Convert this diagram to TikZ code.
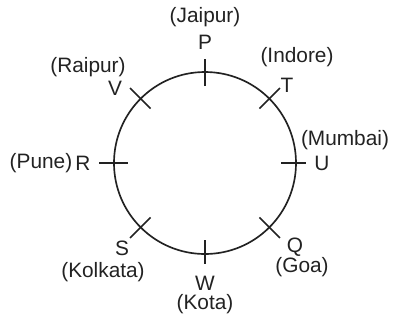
\documentclass[tikz,border=0pt]{standalone}
\usepackage{fontspec}
\setmainfont{Liberation Sans}
\usepackage{xcolor}
\definecolor{SeatInk}{HTML}{222222}

\begin{document}
\begin{tikzpicture}[
    x=0.72pt,y=0.72pt,font=\fontsize{15}{17}\selectfont,
    seat/.style={inner sep=0pt,text=SeatInk},
    city/.style={inner sep=0pt,text=SeatInk},
    tick/.style={line width=1.2pt,draw=SeatInk}
  ]
    \useasboundingbox (-205,-162) rectangle (189,163);
    \coordinate (centre) at (0,0);
    \draw[line width=1.2pt,draw=SeatInk] (centre) circle (91);

    \draw[tick] (90:77) -- (90:104);
    \draw[tick] (45:77) -- (45:106);
    \draw[tick] (0:76) -- (0:101);
    \draw[tick] (-45:77) -- (-45:106);
    \draw[tick] (-90:77) -- (-90:101);
    \draw[tick] (-135:77) -- (-135:106);
    \draw[tick] (180:77) -- (180:106);
    \draw[tick] (135:77) -- (135:106);

    \node[seat] (P) at (0,121) {P};
    \node[city] (jaipur) at (0,146) {(Jaipur)};
    \node[seat] (T) at (82,78) {T};
    \node[city] (indore) at (92,106) {(Indore)};
    \node[seat] (U) at (117,0) {U};
    \node[city] (mumbai) at (140,23) {(Mumbai)};
    \node[seat] (Q) at (90,-84) {Q};
    \node[city] (goa) at (97,-104) {(Goa)};
    \node[seat] (W) at (0,-120) {W};
    \node[city] (kota) at (0,-141) {(Kota)};
    \node[seat] (S) at (-83,-85) {S};
    \node[city] (kolkata) at (-102,-109) {(Kolkata)};
    \node[seat] (R) at (-122,0) {R};
    \node[city] (pune) at (-164,0) {(Pune)};
    \node[seat] (V) at (-90,75) {V};
    \node[city] (raipur) at (-117,96) {(Raipur)};
\end{tikzpicture}
\end{document}
